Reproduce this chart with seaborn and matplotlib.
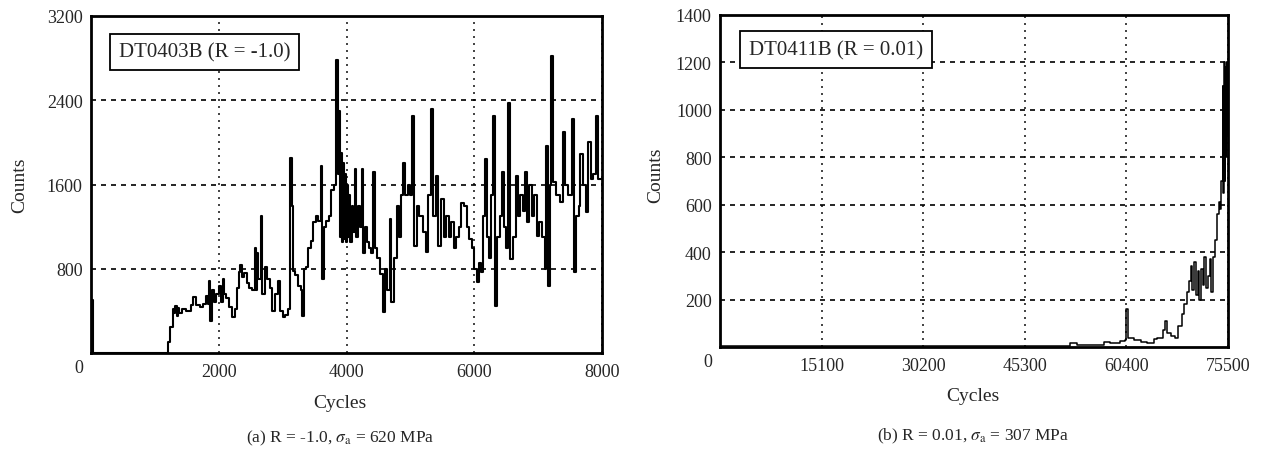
import matplotlib
matplotlib.use("Agg")
import matplotlib.pyplot as plt
import seaborn as sns
import pandas as pd

# ---------------- data ----------------
cycles_a = [0, 30, 1150, 1200, 1240, 1280, 1300, 1320, 1340, 1360, 1380, 1420, 1480, 1560, 1600,
            1640, 1700, 1760, 1800, 1830, 1850, 1870, 1890, 1920, 1960, 2000, 2030, 2060, 2090,
            2120, 2160, 2200, 2250, 2280, 2310, 2340, 2370, 2400, 2440, 2480, 2520, 2560, 2580,
            2600, 2620, 2660, 2680, 2720, 2760, 2800, 2840, 2880, 2920, 2960, 3000, 3040, 3080,
            3120, 3140, 3160, 3200, 3240, 3280, 3310, 3330, 3360, 3400, 3440, 3480, 3520, 3560,
            3600, 3620, 3640, 3680, 3720, 3760, 3800, 3830, 3860, 3880, 3900, 3920, 3935, 3950,
            3965, 3980, 3995, 4010, 4025, 4040, 4055, 4080, 4100, 4130, 4150, 4180, 4210, 4240,
            4260, 4290, 4320, 4350, 4380, 4420, 4440, 4480, 4520, 4570, 4600, 4640, 4680, 4700,
            4740, 4790, 4820, 4860, 4890, 4920, 4960, 5000, 5030, 5060, 5100, 5140, 5200, 5240,
            5280, 5330, 5360, 5400, 5440, 5480, 5520, 5560, 5600, 5640, 5680, 5720, 5760, 5800,
            5840, 5880, 5920, 5960, 6000, 6040, 6070, 6100, 6140, 6170, 6200, 6230, 6260, 6300,
            6320, 6350, 6400, 6430, 6460, 6500, 6530, 6560, 6600, 6650, 6680, 6720, 6760, 6800,
            6830, 6860, 6900, 6940, 6980, 7020, 7060, 7100, 7120, 7150, 7180, 7200, 7230, 7280,
            7340, 7390, 7420, 7460, 7530, 7560, 7600, 7640, 7660, 7700, 7750, 7780, 7820, 7860,
            7910, 7940, 8000]
counts_a = [500, 0, 0, 100, 250, 420, 380, 450, 350, 430, 380, 420, 400, 460, 530,
            460, 440, 470, 540, 470, 680, 300, 600, 480, 560, 640, 480, 700, 560,
            520, 440, 340, 420, 620, 770, 840, 720, 760, 660, 620, 600, 1000, 600,
            950, 700, 1300, 560, 820, 700, 620, 400, 560, 680, 400, 340, 360, 420,
            1850, 1400, 780, 740, 640, 600, 350, 800, 820, 1000, 1060, 1240, 1300, 1250,
            1780, 700, 1200, 1250, 1300, 1550, 1600, 2780, 1700, 2300, 1100, 1900, 1050, 1800,
            1080, 1700, 1050, 1600, 1100, 1500, 1050, 1400, 1150, 1750, 1100, 1400, 1200, 1750,
            950, 1200, 1050, 1000, 950, 1720, 1000, 900, 750, 390, 800, 600, 1270, 480,
            900, 1400, 1100, 1500, 1800, 1500, 1600, 1500, 2250, 1020, 1400, 1300, 1150, 960,
            1500, 2320, 1300, 1680, 1020, 1460, 1100, 1300, 1100, 1240, 1000, 1100, 1200, 1420,
            1400, 1200, 1080, 1000, 800, 670, 850, 770, 1300, 1840, 1100, 900, 1500, 2250,
            450, 1100, 1300, 1720, 1200, 1000, 2370, 890, 1100, 1680, 1300, 1500, 1350, 1720,
            1240, 1600, 1300, 1500, 1110, 1240, 1100, 800, 1970, 640, 1600, 2820, 1620, 1500,
            1430, 2100, 1600, 1500, 2220, 770, 1300, 1400, 1890, 1600, 1340, 2000, 1650, 1700,
            2250, 1650, 1650]

cycles_b = [0, 10000, 20000, 30000, 40000, 48000, 52000, 53000, 55000, 57000, 58000, 59500,
            60200, 60400, 60600, 61500, 62500, 63500, 64500, 65000, 65800, 66100, 66500, 67000,
            67600, 68000, 68600, 69000, 69400, 69700, 70000, 70200, 70500, 70700, 71000, 71200,
            71500, 71800, 72000, 72200, 72500, 72800, 73000, 73300, 73600, 73900, 74100, 74300,
            74500, 74700, 74800, 74900, 75000, 75100, 75200, 75300, 75400, 75500]
counts_b = [5, 3, 4, 3, 5, 6, 18, 8, 10, 22, 15, 25,
            30, 160, 40, 30, 20, 15, 35, 40, 70, 110, 60, 45,
            40, 90, 140, 180, 230, 280, 340, 240, 360, 220, 320, 200,
            330, 260, 380, 250, 300, 370, 230, 380, 450, 560, 610, 580,
            700, 1100, 650, 1200, 700, 1180, 800, 1200, 900, 1200]

xticks_a = [2000, 4000, 6000, 8000]
yticks_a = [800, 1600, 2400, 3200]
xticks_b = [15100, 30200, 45300, 60400, 75500]
yticks_b = [200, 400, 600, 800, 1000, 1200, 1400]

label_a = "DT0403B (R = -1.0)"
label_b = "DT0411B (R = 0.01)"
caption_a = r"(a) R = -1.0, $\sigma_{\rm a}$ = 620 MPa"
caption_b = r"(b) R = 0.01, $\sigma_{\rm a}$ = 307 MPa"

# ---------------- style ----------------
sns.set_theme(style="white")
plt.rcParams["font.family"] = ["Liberation Serif", "DejaVu Serif"]
plt.rcParams["mathtext.fontset"] = "stix"

fig = plt.figure(figsize=(12.68, 4.64), dpi=100)
ax1 = fig.add_axes([91 / 1268, (464 - 354) / 464, 511 / 1268, 337 / 464])
ax2 = fig.add_axes([720 / 1268, (464 - 348) / 464, 508 / 1268, 332 / 464])

df_a = pd.DataFrame({"Cycles": cycles_a, "Counts": counts_a})
df_b = pd.DataFrame({"Cycles": cycles_b, "Counts": counts_b})

sns.lineplot(data=df_a, x="Cycles", y="Counts", ax=ax1, color="black", lw=1.5,
             drawstyle="steps-post", estimator=None, sort=False, zorder=3)
sns.lineplot(data=df_b, x="Cycles", y="Counts", ax=ax2, color="black", lw=1.1,
             drawstyle="steps-post", estimator=None, sort=False, zorder=3)


def style_axes(ax, xmax, ymax, xt, yt, label, box_xy, ylab_xy, xlab_xy):
    ax.set_xlim(0, xmax)
    ax.set_ylim(0, ymax)
    ax.set_xticks(xt)
    ax.set_yticks(yt)
    ax.set_xticklabels([str(v) for v in xt], fontsize=13)
    ax.set_yticklabels([str(v) for v in yt], fontsize=13)
    ax.tick_params(axis="x", length=0, pad=7)
    ax.tick_params(axis="y", length=4, width=1, direction="out", pad=2, color="black")
    ax.yaxis.grid(True, linestyle=(0, (3, 3)), color="black", lw=1.2)
    ax.xaxis.grid(True, linestyle=(0, (1.2, 3)), color="#222222", lw=1.2)
    for sp in ax.spines.values():
        sp.set_visible(True)
        sp.set_color("black")
        sp.set_linewidth(2.0)
    ax.set_xlabel("Cycles", fontsize=14)
    ax.set_ylabel("Counts", fontsize=14)
    ax.yaxis.set_label_coords(*ylab_xy)
    ax.xaxis.set_label_coords(*xlab_xy)
    ax.annotate("0", xy=(0, 0), xycoords="data", xytext=(-8.6, -10.1),
                textcoords="offset points", ha="center", va="center", fontsize=13)
    ax.text(box_xy[0], box_xy[1], label, transform=ax.transAxes, fontsize=15,
            ha="center", va="center", zorder=5,
            bbox=dict(boxstyle="square,pad=0.42", fc="white", ec="black", lw=1.3))


style_axes(ax1, 8000, 3200, xticks_a, yticks_a, label_a, (0.222, 0.893),
           (-0.123, 0.50), (0.487, -0.122))
style_axes(ax2, 75500, 1400, xticks_b, yticks_b, label_b, (0.228, 0.895),
           (-0.110, 0.52), (0.498, -0.120))

fig.text(340 / 1268, 1 - 438 / 464, caption_a, ha="center", va="center", fontsize=12.5)
fig.text(973 / 1268, 1 - 436 / 464, caption_b, ha="center", va="center", fontsize=12.5)

fig.savefig("out.png", dpi=100, facecolor="white")
